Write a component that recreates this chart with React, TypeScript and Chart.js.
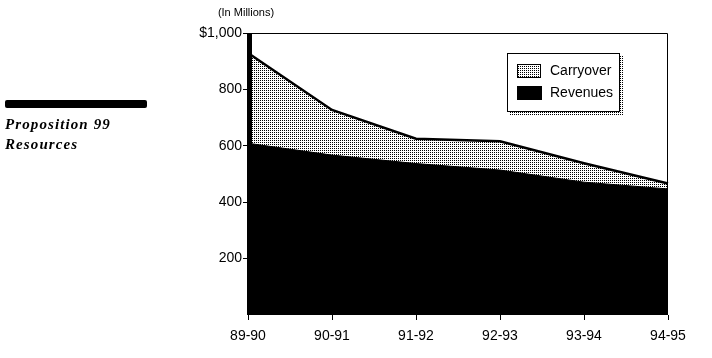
import React, { useEffect, useRef } from "react";
import { Chart, registerables } from "chart.js";

Chart.register(...registerables);

const categories = ["89-90", "90-91", "91-92", "92-93", "93-94", "94-95"];
const revenues = [609, 567, 537, 514, 471, 447];
const carryover = [320, 160, 88, 102, 67, 19];
const yTicks = [0, 200, 400, 600, 800, 1000];

const FONT = "Liberation Sans, Arial, sans-serif";

function makePattern(): CanvasPattern | string {
  const c = document.createElement("canvas");
  c.width = 2;
  c.height = 2;
  const g = c.getContext("2d");
  if (!g) return "#bbb";
  g.fillStyle = "#fff";
  g.fillRect(0, 0, 2, 2);
  g.fillStyle = "#000";
  g.fillRect(0, 0, 1, 1);
  const p = g.createPattern(c, "repeat");
  return p || "#bbb";
}

export default function App() {
  const ref = useRef<HTMLCanvasElement>(null);

  useEffect(() => {
    document.body.style.margin = "0";
    const canvas = ref.current;
    if (!canvas) return;
    const pattern = makePattern();

    const framePlugin = {
      id: "frame",
      afterDatasetsDraw(chart: any) {
        const { ctx, chartArea: a } = chart;
        ctx.save();
        ctx.strokeStyle = "#000";
        ctx.lineWidth = 1;
        ctx.beginPath();
        ctx.moveTo(a.left, a.top + 0.5);
        ctx.lineTo(a.right - 0.5, a.top + 0.5);
        ctx.lineTo(a.right - 0.5, a.bottom);
        ctx.stroke();
        ctx.fillStyle = "#000";
        ctx.fillRect(a.left - 1, a.top, 5, a.bottom - a.top);

        const lx = 507, ly = 53, lw = 113, lh = 59;
        ctx.fillStyle = pattern;
        ctx.fillRect(lx + 3, ly + lh, lw, 3);
        ctx.fillRect(lx + lw, ly + 3, 3, lh);
        ctx.fillStyle = "#fff";
        ctx.fillRect(lx, ly, lw, lh);
        ctx.strokeStyle = "#000";
        ctx.lineWidth = 1;
        ctx.strokeRect(lx + 0.5, ly + 0.5, lw - 1, lh - 1);
        ctx.fillStyle = pattern;
        ctx.fillRect(517, 64, 24, 14);
        ctx.strokeRect(517.5, 64.5, 23, 13);
        ctx.fillStyle = "#000";
        ctx.fillRect(517, 86, 25, 14);
        ctx.font = "14px " + FONT;
        ctx.textBaseline = "middle";
        ctx.textAlign = "left";
        ctx.fillText("Carryover", 550, 71);
        ctx.fillText("Revenues", 550, 93);

        ctx.font = "11px " + FONT;
        ctx.textAlign = "center";
        ctx.fillText("(In Millions)", 246, 13);
        ctx.restore();
      },
    };

    const chart = new Chart(canvas, {
      type: "line",
      data: {
        labels: categories,
        datasets: [
          {
            label: "Revenues",
            data: revenues,
            fill: "origin",
            backgroundColor: "#000",
            borderColor: "#000",
            borderWidth: 1,
            pointRadius: 0,
            tension: 0,
          },
          {
            label: "Carryover",
            data: carryover,
            fill: "-1",
            backgroundColor: pattern as any,
            borderColor: "#000",
            borderWidth: 2.5,
            pointRadius: 0,
            tension: 0,
          },
        ],
      },
      options: {
        responsive: false,
        animation: false,
        devicePixelRatio: 1,
        layout: { padding: { top: 33, right: 44, left: 0, bottom: 0 } },
        plugins: { legend: { display: false }, tooltip: { enabled: false } },
        scales: {
          x: {
            offset: false,
            grid: { drawOnChartArea: false, tickLength: 5, color: "#000" },
            border: { display: false },
            ticks: {
              color: "#000",
              font: { family: FONT, size: 14 },
              maxRotation: 0,
              autoSkip: false,
              padding: 8,
            },
            afterFit(scale: any) {
              scale.height = 43;
            },
          },
          y: {
            stacked: true,
            min: 0,
            max: 1000,
            afterBuildTicks(scale: any) {
              scale.ticks = yTicks.map((v) => ({ value: v }));
            },
            grid: { drawOnChartArea: false, tickLength: 5, color: (c: any) => (c.tick && c.tick.value === 0 ? "rgba(0,0,0,0)" : "#000") },
            border: { display: false },
            ticks: {
              color: "#000",
              font: { family: FONT, size: 14 },
              padding: 1,
              callback: (v: any) => (v === 0 ? "" : v === 1000 ? "$1,000" : String(v)),
            },
            afterFit(scale: any) {
              scale.width = 248;
            },
          },
        },
      },
      plugins: [framePlugin],
    });
    return () => chart.destroy();
  }, []);

  return (
    <div style={{ position: "relative", width: 712, height: 358, background: "#fff" }}>
      <canvas ref={ref} width={712} height={358} style={{ position: "absolute", left: 0, top: 0 }} />
      <div
        style={{
          position: "absolute",
          left: 5,
          top: 100,
          width: 142,
          height: 8,
          background: "#000",
          borderRadius: 2,
        }}
      />
      <div
        style={{
          position: "absolute",
          left: 5,
          top: 114,
          fontFamily: "Liberation Serif, Times New Roman, serif",
          fontWeight: "bold",
          fontStyle: "italic",
          fontSize: 15,
          lineHeight: "20px",
          letterSpacing: 1.1,
          color: "#000",
        }}
      >
        Proposition 99
        <br />
        Resources
      </div>
    </div>
  );
}
